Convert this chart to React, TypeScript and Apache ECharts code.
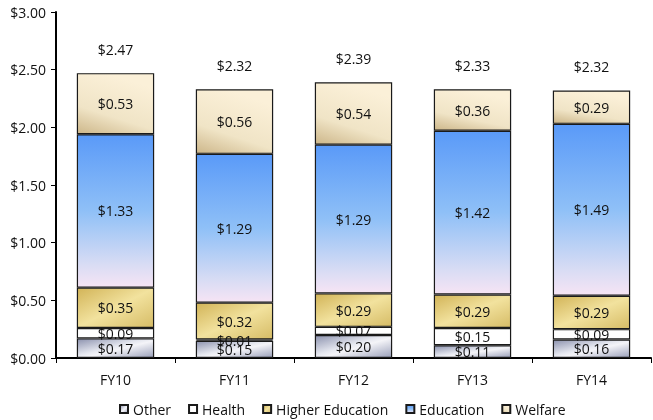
import React, { useEffect, useRef } from "react";
import * as echarts from "echarts";

const categories = ["FY10", "FY11", "FY12", "FY13", "FY14"];
const other = [0.17, 0.15, 0.2, 0.11, 0.16];
const health = [0.09, 0.01, 0.07, 0.15, 0.09];
const higherEducation = [0.35, 0.32, 0.29, 0.29, 0.29];
const education = [1.33, 1.29, 1.29, 1.42, 1.49];
const welfare = [0.53, 0.56, 0.54, 0.36, 0.29];
const totals = [2.47, 2.32, 2.39, 2.33, 2.32];
const yTicks = [0, 0.5, 1, 1.5, 2, 2.5, 3];

const FONT = "'Open Sans', 'Noto Sans', sans-serif";
const FS = 14;
const money = (v: number) => "$" + v.toFixed(2);

const grad = (x: number, y: number, x2: number, y2: number, stops: [number, string][]) =>
  new echarts.graphic.LinearGradient(
    x, y, x2, y2,
    stops.map(([offset, color]) => ({ offset, color }))
  );

export default function App() {
  const ref = useRef<HTMLDivElement>(null);
  useEffect(() => {
    if (!ref.current) return;
    const chart = echarts.init(ref.current, null, { renderer: "svg" });
    const border = { borderColor: "#1a1a1a", borderWidth: 1.2 };
    const segLabel = {
      show: true,
      position: "inside" as const,
      color: "#111",
      fontSize: FS,
      fontFamily: FONT,
      formatter: (p: any) => money(p.value),
    };
    const mk = (name: string, data: number[], color: any) => ({
      name,
      type: "bar",
      stack: "total",
      data,
      barWidth: "65%",
      itemStyle: { color, ...border },
      label: segLabel,
      emphasis: { disabled: true },
    });
    chart.setOption({
      animation: false,
      textStyle: { fontFamily: FONT },
      grid: { left: 56, right: 2, top: 12, bottom: 62, containLabel: false },
      legend: {
        data: ["Other", "Health", "Higher Education", "Education", "Welfare"],
        top: 397,
        left: 114,
        icon: "rect",
        itemWidth: 8,
        itemHeight: 8,
        itemGap: 17,
        textStyle: { fontSize: FS, color: "#111", fontFamily: FONT },
      },
      xAxis: {
        type: "category",
        data: categories,
        axisLine: { lineStyle: { color: "#000", width: 2 } },
        axisTick: { show: true, length: 5, lineStyle: { color: "#000" } },
        axisLabel: { color: "#111", fontSize: FS, margin: 14, fontFamily: FONT },
      },
      yAxis: {
        type: "value",
        min: yTicks[0],
        max: yTicks[yTicks.length - 1],
        interval: 0.5,
        splitLine: { show: false },
        axisLine: { show: true, lineStyle: { color: "#000", width: 2 } },
        axisTick: { show: true, length: 5, lineStyle: { color: "#000" } },
        axisLabel: { color: "#111", fontSize: FS, margin: 10, fontFamily: FONT, formatter: (v: number) => money(v) },
      },
      series: [
        mk("Other", other, grad(0, 0, 1, 1, [[0, "#8c92ae"], [0.45, "#e6e8f0"], [0.55, "#f4f4f8"], [1, "#9aa0ba"]])),
        mk("Health", health, "#ffffff"),
        mk("Higher Education", higherEducation, grad(0, 0, 1, 1, [[0, "#d2b458"], [0.5, "#f2e29e"], [1, "#d6bc66"]])),
        mk("Education", education, grad(0, 0, 0, 1, [[0, "#5a9af8"], [0.5, "#8fc0f7"], [0.85, "#d8dcf4"], [1, "#f6e4f4"]])),
        mk("Welfare", welfare, grad(0.4, 0, 0, 1, [[0, "#fbf0d8"], [0.6, "#f0e4c6"], [1, "#cdb78a"]])),
        {
          name: "Total",
          type: "bar",
          stack: "total",
          data: totals.map(() => 0),
          barWidth: "65%",
          itemStyle: { color: "transparent", borderWidth: 0 },
          label: {
            show: true,
            position: "top",
            distance: 17,
            color: "#111",
            fontSize: FS,
            fontFamily: FONT,
            formatter: (p: any) => money(totals[p.dataIndex]),
          },
          emphasis: { disabled: true },
        },
      ],
    });
    return () => chart.dispose();
  }, []);
  return <div ref={ref} style={{ position: "fixed", left: 0, top: 0, width: 653, height: 420 }} />;
}
